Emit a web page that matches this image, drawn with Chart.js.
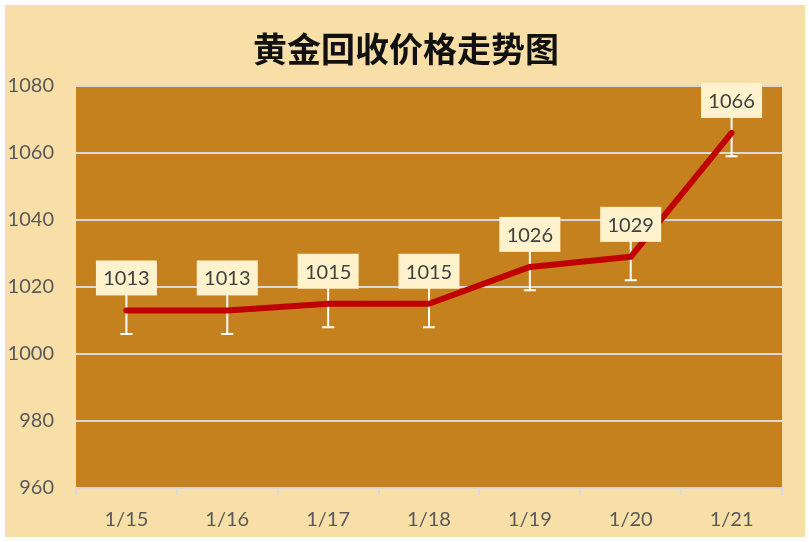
<!DOCTYPE html>
<html>
<head>
<meta charset="utf-8">
<script src="https://cdn.jsdelivr.net/npm/chart.js@4"></script>
<style>
  html, body { margin: 0; padding: 0; background: #ffffff; }
  #chart { display: block; }
</style>
</head>
<body>
<canvas id="chart" width="809" height="542"></canvas>
<script>
// chart data
const dates = ['1/15', '1/16', '1/17', '1/18', '1/19', '1/20', '1/21'];
const prices = [1013, 1013, 1015, 1015, 1026, 1029, 1066];
const errorUp = [7, 7, 7, 7, 7, 7, 7];
const errorDown = [7, 7, 7, 7, 7, 7, 7];
const yTicks = { min: 960, max: 1080, step: 20 };
const chartTitle = '黄金回收价格走势图';

// paints the outer frame, title and plot area
const backgroundPlugin = {
  id: 'background',
  beforeDraw(chart) {
    const ctx = chart.ctx;
    const area = chart.chartArea;
    ctx.save();
    ctx.fillStyle = '#ffffff';
    ctx.fillRect(0, 0, chart.width, chart.height);
    ctx.fillStyle = '#F8DFA8';
    ctx.fillRect(5, 5, chart.width - 9, chart.height - 10);
    ctx.fillStyle = '#C5811E';
    ctx.fillRect(area.left, area.top, area.right - area.left, area.bottom - area.top);
    ctx.fillStyle = '#111111';
    ctx.font = 'bold 34px "Noto Sans CJK SC"';
    ctx.textAlign = 'center';
    ctx.textBaseline = 'middle';
    ctx.fillText(chartTitle, 406, 49);
    ctx.restore();
  }
};

// white error bars, drawn under the line
const errorBarPlugin = {
  id: 'errorBars',
  beforeDatasetsDraw(chart) {
    const ctx = chart.ctx;
    const x = chart.scales.x;
    const y = chart.scales.y;
    ctx.save();
    ctx.strokeStyle = '#ffffff';
    ctx.lineWidth = 2;
    prices.forEach((v, i) => {
      const px = x.getPixelForValue(i);
      const top = y.getPixelForValue(v + errorUp[i]);
      const bottom = y.getPixelForValue(v - errorDown[i]);
      ctx.beginPath();
      ctx.moveTo(px, top);
      ctx.lineTo(px, bottom);
      ctx.moveTo(px - 6, top);
      ctx.lineTo(px + 6, top);
      ctx.moveTo(px - 6, bottom);
      ctx.lineTo(px + 6, bottom);
      ctx.stroke();
    });
    ctx.restore();
  }
};

// value boxes above each point
const valueLabelPlugin = {
  id: 'valueLabels',
  afterDatasetsDraw(chart) {
    const ctx = chart.ctx;
    const x = chart.scales.x;
    const y = chart.scales.y;
    ctx.save();
    ctx.font = '20px Lato';
    ctx.textAlign = 'center';
    ctx.textBaseline = 'middle';
    prices.forEach((v, i) => {
      const px = x.getPixelForValue(i);
      const py = y.getPixelForValue(v);
      const w = 61, h = 35;
      const boxBottom = py - 15;
      ctx.fillStyle = '#FFF2CC';
      ctx.fillRect(px - w / 2, boxBottom - h, w, h);
      ctx.fillStyle = '#404040';
      ctx.fillText(String(v), px, boxBottom - h / 2 + 1);
    });
    ctx.restore();
  }
};

new Chart(document.getElementById('chart'), {
  type: 'line',
  data: {
    labels: dates,
    datasets: [{
      data: prices,
      borderColor: '#C00000',
      borderWidth: 6,
      pointRadius: 0,
      tension: 0,
      borderJoinStyle: 'round',
      borderCapStyle: 'round'
    }]
  },
  options: {
    responsive: false,
    animation: false,
    devicePixelRatio: 1,
    layout: { padding: { left: 0, top: 86, right: 27, bottom: 0 } },
    plugins: {
      legend: { display: false },
      tooltip: { enabled: false },
      title: { display: false }
    },
    scales: {
      x: {
        offset: true,
        grid: {
          offset: true,
          drawOnChartArea: false,
          drawTicks: true,
          tickLength: 7,
          color: '#D9D9D9',
          lineWidth: 2
        },
        border: { display: true, color: '#D9D9D9', width: 2 },
        ticks: { color: '#595959', font: { family: 'Lato', size: 20 }, padding: 13 },
        afterFit(scale) { scale.height = 54; }
      },
      y: {
        min: yTicks.min,
        max: yTicks.max,
        ticks: {
          stepSize: yTicks.step,
          color: '#595959',
          font: { family: 'Lato', size: 20 },
          padding: 22,
          callback: (value) => String(value)
        },
        grid: { color: '#D9D9D9', lineWidth: 2, drawTicks: false },
        border: { display: false },
        afterFit(scale) { scale.width = 76; }
      }
    }
  },
  plugins: [backgroundPlugin, errorBarPlugin, valueLabelPlugin]
});
</script>
</body>
</html>
